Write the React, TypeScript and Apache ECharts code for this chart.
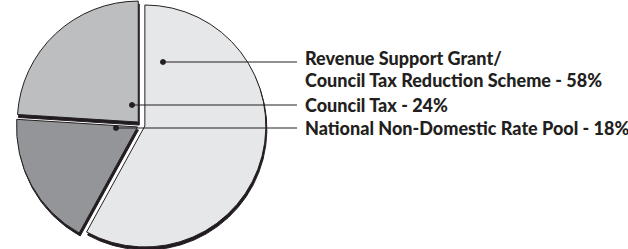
import React, { useEffect, useRef } from "react";
import * as echarts from "echarts";

const categories = [
  "Revenue Support Grant/\nCouncil Tax Reduction Scheme",
  "National Non-Domestic Rate Pool",
  "Council Tax",
];
const values = [58, 18, 24];
const sliceColors = ["#e6e7e8", "#939598", "#bcbec0"];

// annotation placement (pixels)
const dotPositions: [number, number][] = [
  [163, 62],
  [116, 128],
  [132, 105],
];
const labelTopY = [47, 117, 94];
const labelX = 305;
const lineEndX = 297;

export default function App() {
  const ref = useRef<HTMLDivElement>(null);
  useEffect(() => {
    document.body.style.margin = "0";
    const chart = echarts.init(ref.current!, null, { renderer: "svg" });
    const ink = "#231f20";
    const graphics: any[] = [];
    categories.forEach((name, i) => {
      const [x, y] = dotPositions[i];
      graphics.push({
        type: "line",
        shape: { x1: x, y1: y, x2: lineEndX, y2: y },
        style: { stroke: ink, lineWidth: 1 },
        z: 100,
      });
      graphics.push({
        type: "circle",
        shape: { cx: x, cy: y, r: 3 },
        style: { fill: ink },
        z: 101,
      });
      graphics.push({
        type: "text",
        x: labelX,
        y: labelTopY[i],
        style: {
          text: `${name} - ${values[i]}%`,
          fill: ink,
          font: "900 18px Lato",
          lineHeight: 22,
          verticalAlign: "top",
          align: "left",
        },
        z: 100,
      });
    });
    chart.setOption({
      animation: false,
      backgroundColor: "#ffffff",
      series: [
        {
          type: "pie",
          center: [141, 125],
          radius: [0, 121],
          startAngle: 90,
          clockwise: true,
          selectedMode: "multiple",
          selectedOffset: 4,
          emphasis: { disabled: true },
          itemStyle: {
            borderColor: ink,
            borderWidth: 1,
            shadowColor: ink,
            shadowBlur: 0,
            shadowOffsetX: 1,
            shadowOffsetY: 3,
          },
          label: { show: false },
          labelLine: { show: false },
          data: categories.map((name, i) => ({
            name,
            value: values[i],
            selected: true,
            itemStyle: { color: sliceColors[i] },
          })),
        },
      ],
      graphic: graphics,
    });
    return () => chart.dispose();
  }, []);
  return <div ref={ref} style={{ width: 628, height: 249 }} />;
}
